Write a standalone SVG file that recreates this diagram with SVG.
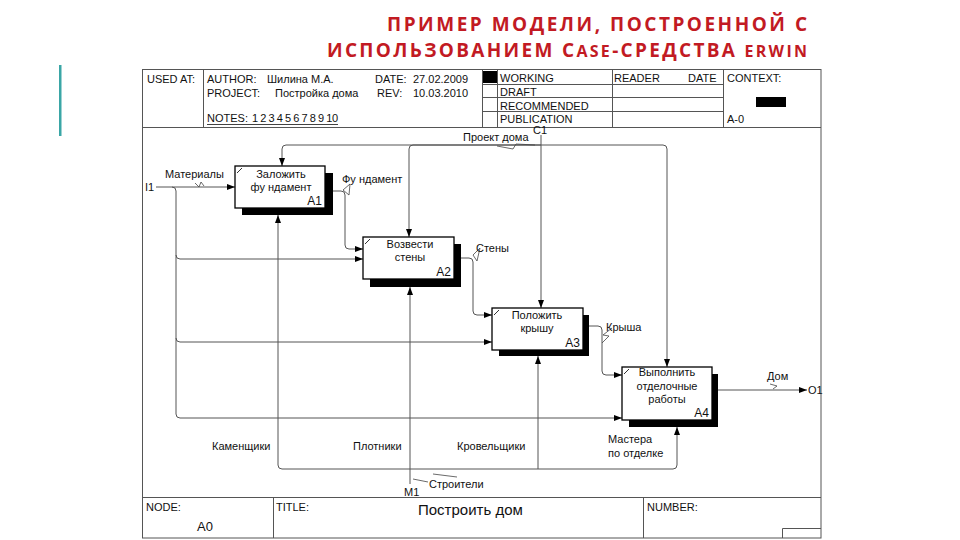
<svg xmlns="http://www.w3.org/2000/svg" width="960" height="540" viewBox="0 0 960 540">
<style>
.t{font-family:"Liberation Sans",Arial,sans-serif;font-size:11px;fill:#111}
.h{font-family:"Liberation Sans",Arial,sans-serif;font-size:11px;fill:#111}
.c{text-anchor:middle}
.e{text-anchor:end}
.n{font-size:12px}
.ttl{font-family:"Open Sans","Liberation Sans",sans-serif;font-weight:bold;font-size:19px;fill:#c21a23;text-anchor:end}
.fr{fill:none;stroke:#555;stroke-width:1}
.box{fill:#fff;stroke:#000;stroke-width:1.3}
.sh{fill:#000}
.cn{fill:none;stroke:#555;stroke-width:1}
.sq{fill:none;stroke:#444;stroke-width:0.8}
.tk{stroke:#000;stroke-width:0.8}
</style>
<defs>
<marker id="ar" markerUnits="userSpaceOnUse" markerWidth="8" markerHeight="6" refX="8" refY="3" orient="auto">
<path d="M0,0 L8,3 L0,6 z" fill="#000"/>
</marker>
</defs>
<rect width="960" height="540" fill="#fff"/>
<!-- title -->
<text class="ttl" x="807" y="31" textLength="420" lengthAdjust="spacing">ПРИМЕР МОДЕЛИ, ПОСТРОЕННОЙ С</text>
<text class="ttl" x="807" y="57" textLength="480" lengthAdjust="spacing">ИСПОЛЬЗОВАНИЕМ C<tspan font-size="16">ASE</tspan>-СРЕДСТВА <tspan font-size="16">ERWIN</tspan></text>
<rect x="59" y="65" width="2.5" height="71" fill="#3aa6a6"/>
<!-- frame -->
<g id="frame">
<rect class="fr" x="142.5" y="69.5" width="678.5" height="468.5"/>
<path class="fr" d="M203.5,69.5 V127.5 M142.5,127.5 H821 M482.5,69.5 V127.5 M497.5,69.5 V127.5 M612.5,69.5 V127.5 M723.5,69.5 V127.5 M482.5,84.5 H723.5 M482.5,97.5 H723.5 M482.5,111.5 H723.5"/>
<rect x="483" y="71" width="14" height="12" fill="#000"/>
<rect x="756" y="97" width="30" height="10" fill="#000"/>
<text class="h" x="147" y="83">USED AT:</text>
<text class="h" x="207" y="83">AUTHOR:</text>
<text class="h" x="267" y="83">Шилина М.А.</text>
<text class="h" x="375" y="83">DATE:</text>
<text class="h" x="413" y="83">27.02.2009</text>
<text class="h" x="207" y="97">PROJECT:</text>
<text class="h" x="275" y="97">Постройка дома</text>
<text class="h" x="377" y="97">REV:</text>
<text class="h" x="413" y="97">10.03.2010</text>
<text class="h" x="207" y="122">NOTES:</text>
<text class="h" x="252" y="122" textLength="86" lengthAdjust="spacing">1 2 3 4 5 6 7 8 9 10</text>
<path d="M207,124.5 H338" stroke="#111" stroke-width="0.8"/>
<text class="h" x="500" y="82">WORKING</text>
<text class="h" x="500" y="96">DRAFT</text>
<text class="h" x="500" y="110">RECOMMENDED</text>
<text class="h" x="500" y="123">PUBLICATION</text>
<text class="h" x="614" y="82">READER</text>
<text class="h" x="688" y="82">DATE</text>
<text class="h" x="727" y="82">CONTEXT:</text>
<text class="h" x="727" y="123">A-0</text>
<path class="fr" d="M142.5,497.5 H821 M273.5,497.5 V538 M643.5,497.5 V538 M782.5,538 V528.5 H821"/>
<text class="h" x="146" y="511">NODE:</text>
<text class="h" x="197" y="531" style="font-size:13px">A0</text>
<text class="h" x="276" y="511">TITLE:</text>
<text class="h" x="418" y="515" style="font-size:15px">Построить дом</text>
<text class="h" x="647" y="511">NUMBER:</text>
</g>
<!-- connectors -->
<g id="connectors">
<!-- C1 control -->
<path class="cn" d="M541,135 V308" marker-end="url(#ar)"/>
<path class="cn" d="M541,145 H286 Q282,145 282,149 V166" marker-end="url(#ar)"/>
<path class="cn" d="M541,145 H413 Q409,145 409,149 V237" marker-end="url(#ar)"/>
<path class="cn" d="M541,145 H663 Q667,145 667,149 V367" marker-end="url(#ar)"/>
<!-- I1 input -->
<path class="cn" d="M156,187 H235" marker-end="url(#ar)"/>
<path class="cn" d="M172,187 Q176,187 176,191 V414 Q176,418 180,418 H622" marker-end="url(#ar)"/>
<path class="cn" d="M176,255 Q176,259 180,259 H363" marker-end="url(#ar)"/>
<path class="cn" d="M176,338 Q176,342 180,342 H492" marker-end="url(#ar)"/>
<!-- outputs -->
<path class="cn" d="M325,191 H341 Q345,191 345,195 V245 Q345,249 349,249 H363" marker-end="url(#ar)"/>
<path class="cn" d="M454,258 H469 Q473,258 473,262 V311 Q473,315 477,315 H492" marker-end="url(#ar)"/>
<path class="cn" d="M583,326 H598 Q602,326 602,330 V371 Q602,375 606,375 H622" marker-end="url(#ar)"/>
<path class="cn" d="M712,390 H807" marker-end="url(#ar)"/>
<!-- M1 mechanism -->
<path class="cn" d="M410,484 V287" marker-end="url(#ar)"/>
<path class="cn" d="M410,469 H282 Q278,469 278,465 V215" marker-end="url(#ar)"/>
<path class="cn" d="M410,469 H673 Q677,469 677,465 V427" marker-end="url(#ar)"/>
<path class="cn" d="M538,469 V356" marker-end="url(#ar)"/>
<!-- squiggles -->
<path class="sq" d="M497,146 L513,149 L516,144 L535,145"/>
<path class="sq" d="M195,183 L199,187 L201,182 L204,186"/>
<path class="sq" d="M350,184 L343,190 L349,195 Z"/>
<path class="sq" d="M480,248 L473,255 L477,261 Z"/>
<path class="sq" d="M612,328 L603,335 L609,336 L602,343"/>
<path class="sq" d="M770,384 L777,386 L773,389"/>
<path class="sq" d="M413,479 L428,482 M433,474 L457,477"/>
<!-- labels -->
<text class="t" x="533" y="134">C1</text>
<text class="t" x="463" y="141">Проект дома</text>
<text class="t" x="145" y="191">I1</text>
<text class="t" x="165" y="178">Материалы</text>
<text class="t" x="342" y="183">Фу ндамент</text>
<text class="t" x="476" y="252">Стены</text>
<text class="t" x="606" y="331">Крыша</text>
<text class="t" x="767" y="380">Дом</text>
<text class="t" x="808" y="394">O1</text>
<text class="t" x="212" y="450">Каменщики</text>
<text class="t" x="353" y="450">Плотники</text>
<text class="t" x="457" y="450">Кровельщики</text>
<text class="t" x="608" y="443">Мастера</text>
<text class="t" x="608" y="457">по отделке</text>
<text class="t" x="429" y="488">Строители</text>
<text class="t" x="404" y="496">M1</text>
</g>
<!-- nodes -->
<g id="A1">
<rect class="sh" x="242" y="173" width="91" height="42"/>
<rect class="box" x="235" y="166" width="90" height="42"/>
<path class="tk" d="M237,173 L242,168"/>
<text class="t c" x="281" y="178">Заложить</text>
<text class="t c" x="281" y="191">фу ндамент</text>
<text class="t e n" x="322" y="205">A1</text>
</g>
<g id="A2">
<rect class="sh" x="370" y="244" width="91" height="43"/>
<rect class="box" x="363" y="237" width="91" height="42"/>
<path class="tk" d="M365,244 L370,239"/>
<text class="t c" x="410" y="248">Возвести</text>
<text class="t c" x="410" y="261">стены</text>
<text class="t e n" x="451" y="276">A2</text>
</g>
<g id="A3">
<rect class="sh" x="499" y="315" width="90" height="41"/>
<rect class="box" x="492" y="308" width="91" height="42"/>
<path class="tk" d="M494,315 L499,310"/>
<text class="t c" x="537" y="319">Положить</text>
<text class="t c" x="537" y="332">крышу</text>
<text class="t e n" x="580" y="347">A3</text>
</g>
<g id="A4">
<rect class="sh" x="629" y="374" width="89" height="53"/>
<rect class="box" x="622" y="367" width="90" height="53"/>
<path class="tk" d="M624,374 L629,369"/>
<text class="t c" x="667" y="376">Выполнить</text>
<text class="t c" x="667" y="390">отделочные</text>
<text class="t c" x="667" y="403">работы</text>
<text class="t e n" x="709" y="417">A4</text>
</g>
</svg>
